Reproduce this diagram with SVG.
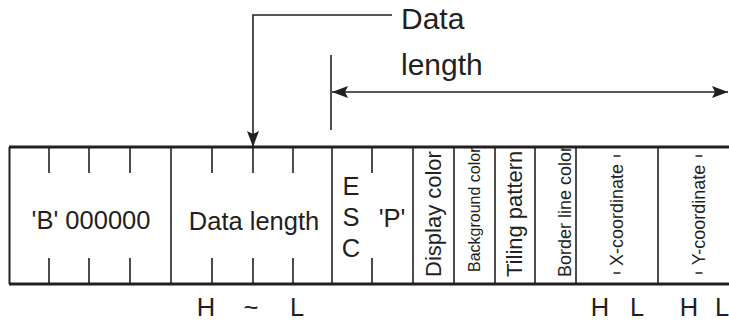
<svg xmlns="http://www.w3.org/2000/svg" width="729" height="323" viewBox="0 0 729 323">
<style>
.ln{stroke:#231f20;stroke-width:1.6;fill:none}
.bd{stroke:#231f20;stroke-width:3;fill:none}
.t{font-family:"Liberation Sans",Arial,sans-serif;fill:#231f20}
.big{font-size:25.5px}
.mid{font-size:22px}
.sm{font-size:16px}
</style>
<defs>
<marker id="ah" viewBox="0 0 16 12" refX="16" refY="6" markerWidth="16" markerHeight="12" markerUnits="userSpaceOnUse" orient="auto-start-reverse">
<path d="M0,0 L16,6 L0,12 L3,6 Z" fill="#231f20"/>
</marker>
<clipPath id="box"><rect x="9" y="148" width="720" height="135"/></clipPath>
</defs>
<rect width="729" height="323" fill="#fff"/>
<g id="frame">
<line class="bd" x1="9" y1="147" x2="729" y2="147"/>
<line class="bd" x1="9" y1="284" x2="729" y2="284"/>
<line class="ln" x1="9.5" y1="147" x2="9.5" y2="284" style="stroke-width:2"/>
</g>
<g id="cell-b">
<path class="ln" d="M49,147V173M89,147V173M130,147V173M49,258V284M89,258V284M130,258V284"/>
<line class="ln" x1="171" y1="147" x2="171" y2="284"/>
<text class="t big" x="91" y="229" text-anchor="middle">'B' 000000</text>
</g>
<g id="cell-datalength">
<path class="ln" d="M212,147V173M253,147V173M293,147V173M212,258V284M253,258V284M293,258V284"/>
<line class="ln" x1="332" y1="147" x2="332" y2="284"/>
<text class="t big" x="254" y="230" text-anchor="middle">Data length</text>
</g>
<g id="cell-esc">
<path class="ln" d="M372,147V173M372,258V284"/>
<text class="t big" x="351" y="195" text-anchor="middle">E</text>
<text class="t big" x="351" y="226" text-anchor="middle">S</text>
<text class="t big" x="351" y="257" text-anchor="middle">C</text>
<text class="t big" x="392" y="227" text-anchor="middle">'P'</text>
<line class="ln" x1="413" y1="147" x2="413" y2="284"/>
</g>
<g id="cell-display">
<text class="t mid" transform="translate(441,277) rotate(-90)">Display color</text>
<line class="ln" x1="454" y1="147" x2="454" y2="284"/>
</g>
<g id="cell-background" clip-path="url(#box)">
<text class="t sm" transform="translate(480,272) rotate(-90)">Background color</text>
</g>
<g id="cell-tiling">
<line class="ln" x1="495" y1="147" x2="495" y2="284"/>
<text class="t mid" transform="translate(522,277) rotate(-90)">Tiling pattern</text>
<line class="ln" x1="535" y1="147" x2="535" y2="284"/>
</g>
<g id="cell-border" clip-path="url(#box)">
<text class="t" style="font-size:18px" transform="translate(571,277) rotate(-90)">Border line color</text>
</g>
<g id="cell-x">
<line class="ln" x1="576" y1="147" x2="576" y2="284"/>
<text class="t" style="font-size:18px" transform="translate(623,215) rotate(-90)" text-anchor="middle">X-coordinate</text>
<path class="ln" d="M613.5,156H620.5M613.5,273H620.5"/>
<line class="ln" x1="658" y1="147" x2="658" y2="284"/>
</g>
<g id="cell-y">
<text class="t" style="font-size:18px" transform="translate(705,215) rotate(-90)" text-anchor="middle">Y-coordinate</text>
<path class="ln" d="M695.5,156H702.5M695.5,273H702.5"/>
</g>
<g id="connectors">
<path class="ln" d="M392,15H253V147" marker-end="url(#ah)"/>
<line class="ln" x1="331" y1="55" x2="331" y2="130"/>
<line class="ln" x1="332" y1="92" x2="728" y2="92" marker-start="url(#ah)" marker-end="url(#ah)"/>
</g>
<g id="label-datalength">
<text class="t" style="font-size:30px" x="401" y="29">Data</text>
<text class="t" style="font-size:30px" x="401" y="75">length</text>
</g>
<g id="bytes">
<text class="t big" x="206" y="316" text-anchor="middle">H</text>
<text class="t big" x="251" y="316" text-anchor="middle">~</text>
<text class="t big" x="297" y="316" text-anchor="middle">L</text>
<text class="t big" x="600" y="316" text-anchor="middle">H</text>
<text class="t big" x="637" y="316" text-anchor="middle">L</text>
<text class="t big" x="689" y="316" text-anchor="middle">H</text>
<text class="t big" x="715" y="316">L</text>
</g>
</svg>
